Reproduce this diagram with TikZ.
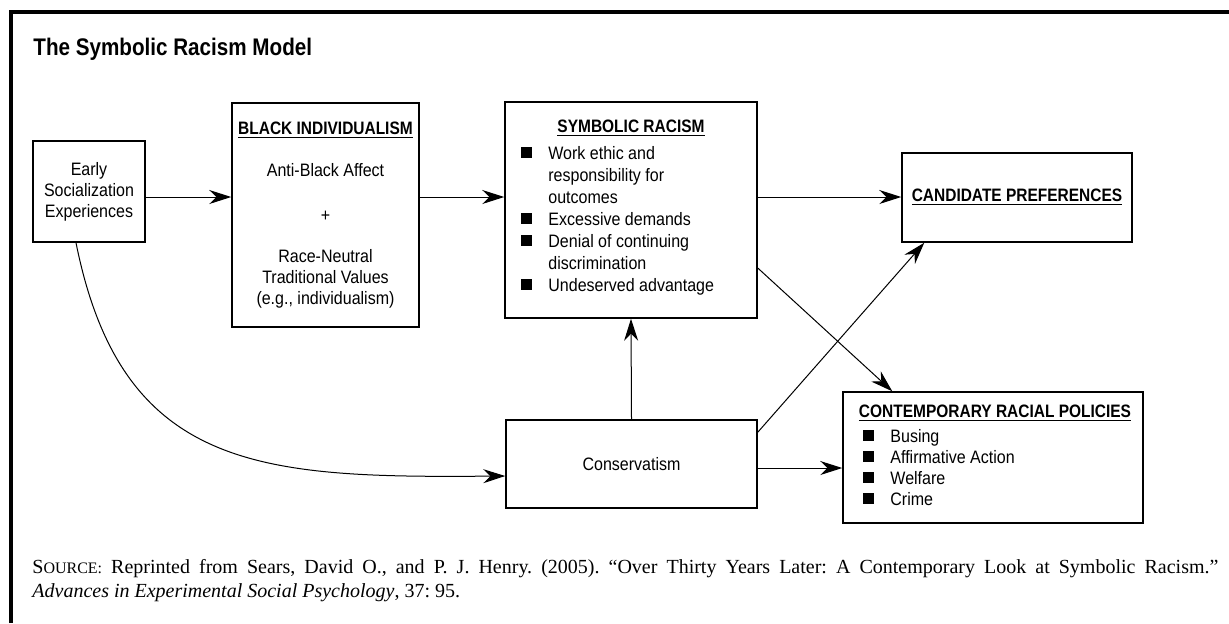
\documentclass[tikz,border=0pt]{standalone}
\usepackage{fontspec}
\setmainfont{Liberation Serif}
\newfontfamily\condfont[FakeStretch=0.89]{Liberation Sans}
\newfontfamily\headfont[FakeStretch=0.86]{Liberation Sans}
\usetikzlibrary{arrows.meta, positioning, calc}
\newcommand{\sqb}{\rule[0.4pt]{5.5pt}{5.5pt}}
\newcommand{\heading}[1]{\underline{\headfont\bfseries #1}}

\begin{document}
\begin{tikzpicture}[
    x=0.5pt, y=-0.5pt,
    box/.style={draw, line width=0.75pt, inner sep=0pt, align=center,
                font=\condfont\fontsize{9}{10.5}\selectfont},
    head/.style={inner sep=0pt, anchor=base, font=\fontsize{9}{10.5}\selectfont},
    lst/.style={inner sep=0pt, anchor=base west, font=\condfont\fontsize{9}{11}\selectfont},
    link/.style={-{Stealth[length=11pt, width=7pt]}, line width=0.5pt}
]
\useasboundingbox (0,0) rectangle (1229,623);
\draw[line width=2pt] (11,623) -- (11,12) -- (1229,12);

\node[anchor=base west, inner sep=0pt, font=\headfont\bfseries\fontsize{12}{14}\selectfont] (title) at (33,55) {The Symbolic Racism Model};

\node[box, minimum width=56pt, minimum height=50.5pt] (early) at (89,191.5) {Early\\Socialization\\Experiences};
\node[box, minimum width=93.5pt, minimum height=112pt] (indiv) at (325.5,215)
    {\heading{BLACK INDIVIDUALISM}\\[10.5pt] Anti-Black Affect\\[12pt] +\\[10pt] Race-Neutral\\Traditional Values\\(e.g., individualism)};

\node[box, minimum width=126pt, minimum height=108pt] (symb) at (631,210) {};
\node[head] (symbhead) at (631,132) {\heading{SYMBOLIC RACISM}};
\node[lst] (symblist) at (521,159) {\begin{tabular}[t]{@{}l@{\hspace{8pt}}l@{}}
    \sqb & Work ethic and\\
         & responsibility for\\
         & outcomes\\
    \sqb & Excessive demands\\
    \sqb & Denial of continuing\\
         & discrimination\\
    \sqb & Undeserved advantage
  \end{tabular}};

\node[box, minimum width=115pt, minimum height=44.5pt] (cand) at (1017,197.5) {\heading{CANDIDATE PREFERENCES}};
\node[box, minimum width=125.5pt, minimum height=44pt] (cons) at (631.5,464) {Conservatism};

\node[box, minimum width=150pt, minimum height=65.5pt] (policy) at (993,457.5) {};
\node[head] (policyhead) at (995,417) {\heading{CONTEMPORARY RACIAL POLICIES}};
\node[lst, font=\condfont\fontsize{9}{10.5}\selectfont] (policylist) at (863,442) {\begin{tabular}[t]{@{}l@{\hspace{8pt}}l@{}}
    \sqb & Busing\\
    \sqb & Affirmative Action\\
    \sqb & Welfare\\
    \sqb & Crime
  \end{tabular}};

% connectors
\coordinate (row) at (0,197);
\draw[link] (early.east |- row) -- (indiv.west |- row);
\draw[link] (indiv.east |- row) -- (symb.west |- row);
\draw[link] (symb.east |- row) -- (cand.west |- row);
\draw[link] (cons.north) -- (symb.south);
\draw[link] ([yshift=-2pt]cons.east) -- ([yshift=-2pt]cons.east -| policy.west);
\draw[link] ([yshift=-29pt]symb.east) -- ([xshift=25pt]policy.north west);
\draw[link] ([yshift=-6.5pt]cons.north east) -- ([xshift=11.5pt]cand.south west);
\draw[link] ([xshift=-6.5pt]early.south) .. controls (122,472) and (262,478) .. ([yshift=-6pt]cons.west);

\node[anchor=base west, inner sep=0pt, text width=593pt, align=justify, font=\fontsize{10}{12}\selectfont\frenchspacing] (source) at (32,573)
    {{\fontsize{10}{12}\selectfont S\fontsize{8}{12}\selectfont OURCE:} Reprinted from Sears, David O., and P. J. Henry. (2005). ``Over Thirty Years Later: A Contemporary Look at Symbolic Racism.''\linebreak
     \textit{Advances in Experimental Social Psychology}, 37: 95.};
\end{tikzpicture}
\end{document}
